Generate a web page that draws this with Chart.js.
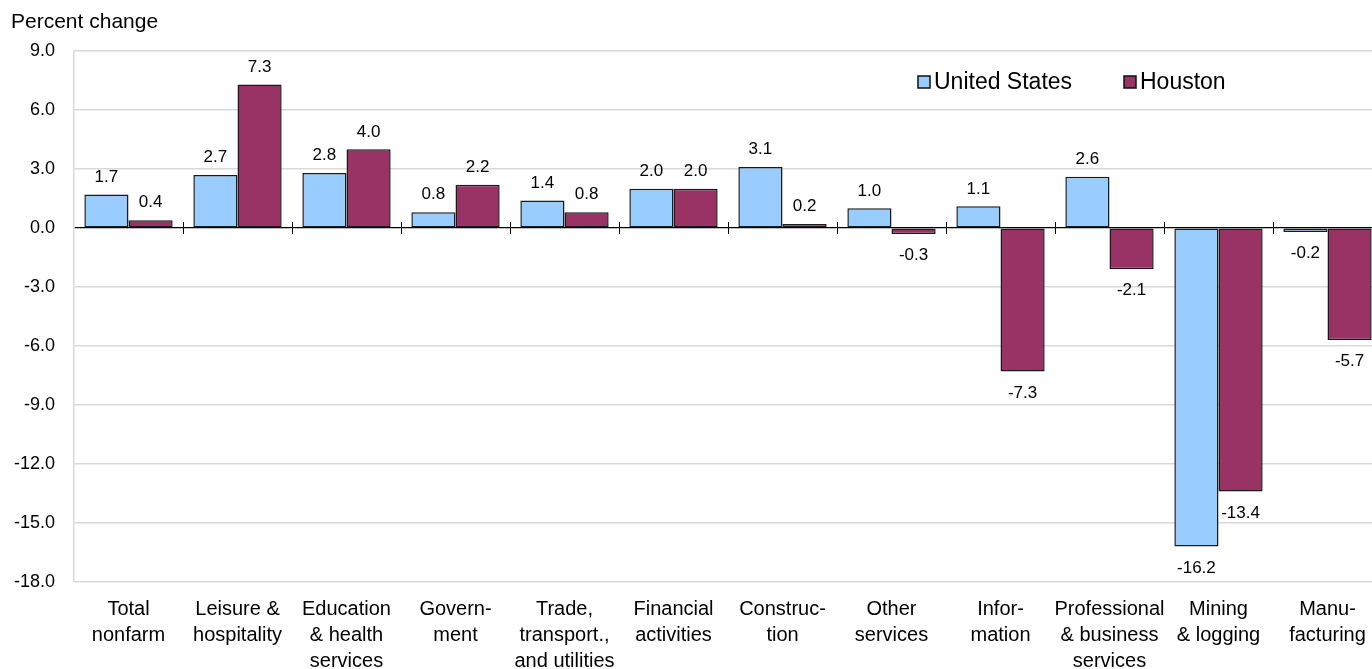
<!DOCTYPE html>
<html>
<head>
<meta charset="utf-8">
<script src="https://cdn.jsdelivr.net/npm/chart.js@4"></script>
<style>
  html, body { margin: 0; padding: 0; background: #fff; overflow: hidden; }
  #wrap { width: 1390px; height: 669px; }
</style>
</head>
<body>
<div id="wrap"><canvas id="myChart" width="1390" height="669"></canvas></div>
<script>
(function(){
  'use strict';

  const categories = [
    ['Total', 'nonfarm'],
    ['Leisure &', 'hospitality'],
    ['Education', '& health', 'services'],
    ['Govern-', 'ment'],
    ['Trade,', 'transport.,', 'and utilities'],
    ['Financial', 'activities'],
    ['Construc-', 'tion'],
    ['Other', 'services'],
    ['Infor-', 'mation'],
    ['Professional', '& business', 'services'],
    ['Mining', '& logging'],
    ['Manu-', 'facturing']
  ];
  const seriesNames = ['United States', 'Houston'];
  const usValues = [1.7, 2.7, 2.8, 0.8, 1.4, 2.0, 3.1, 1.0, 1.1, 2.6, -16.2, -0.2];
  const houstonValues = [0.4, 7.3, 4.0, 2.2, 0.8, 2.0, 0.2, -0.3, -7.3, -2.1, -13.4, -5.7];
  const yMin = -18;
  const yMax = 9;
  const yStep = 3;

  const usColor = '#99ccff';
  const houstonColor = '#993366';
  const fontFamily = '"Liberation Sans", Arial, sans-serif';

  // value labels, zero-line ticks, title and legend
  const extras = {
    id: 'extras',
    afterDatasetsDraw(chart){
      const ctx = chart.ctx;
      const area = chart.chartArea;
      const xs = chart.scales.x;
      const ys = chart.scales.y;
      const zeroY = ys.getPixelForValue(0);

      ctx.save();
      // tick marks across the zero line
      ctx.strokeStyle = '#000';
      ctx.lineWidth = 1;
      for (let i = 1; i < categories.length; i++){
        const x = Math.round((xs.getPixelForValue(i - 1) + xs.getPixelForValue(i)) / 2) + 0.5;
        ctx.beginPath();
        ctx.moveTo(x, zeroY - 6);
        ctx.lineTo(x, zeroY + 6);
        ctx.stroke();
      }

      ctx.fillStyle = '#000';
      ctx.font = '17px ' + fontFamily;
      ctx.textAlign = 'center';
      chart.data.datasets.forEach((ds, di) => {
        const meta = chart.getDatasetMeta(di);
        meta.data.forEach((bar, i) => {
          const v = ds.data[i];
          if (v >= 0){
            ctx.textBaseline = 'bottom';
            ctx.fillText(v.toFixed(1), bar.x, bar.y - 9);
          } else {
            ctx.textBaseline = 'top';
            ctx.fillText(v.toFixed(1), bar.x, bar.y + 13);
          }
        });
      });

      // axis title
      ctx.textAlign = 'left';
      ctx.textBaseline = 'middle';
      ctx.font = '21px ' + fontFamily;
      ctx.fillText('Percent change', 11, 22);

      // legend
      ctx.font = '23px ' + fontFamily;
      const legendY = 82;
      let lx = area.left + 844;
      chart.data.datasets.forEach((ds) => {
        ctx.fillStyle = ds.backgroundColor;
        ctx.fillRect(lx, legendY - 6, 12, 12);
        ctx.strokeStyle = '#111';
        ctx.lineWidth = 1.5;
        ctx.strokeRect(lx, legendY - 6, 12, 12);
        ctx.fillStyle = '#000';
        ctx.fillText(ds.label, lx + 16, legendY + 1);
        lx += 206;
      });
      ctx.restore();
    }
  };

  function createChart(){
    const ctx = document.getElementById('myChart').getContext('2d');
    new Chart(ctx, {
      type: 'bar',
      data: {
        labels: categories,
        datasets: [{
          label: seriesNames[0],
          data: usValues,
          backgroundColor: usColor,
          borderColor: '#1a1a1a',
          borderWidth: 1.5,
          borderSkipped: false
        }, {
          label: seriesNames[1],
          data: houstonValues,
          backgroundColor: houstonColor,
          borderColor: '#1a1a1a',
          borderWidth: 1.5,
          borderSkipped: false
        }]
      },
      options: {
        responsive: false,
        animation: false,
        categoryPercentage: 0.81,
        barPercentage: 1.0,
        layout: { padding: { left: 0, top: 51, right: 8, bottom: 0 } },
        scales: {
          x: {
            grid: { display: false },
            border: { display: false },
            ticks: {
              color: '#000',
              font: { family: fontFamily, size: 20, lineHeight: 1.3 },
              maxRotation: 0,
              autoSkip: false,
              padding: 6
            },
            afterFit(scale){ scale.height = 87; }
          },
          y: {
            min: yMin,
            max: yMax,
            grid: {
              color: (c) => c.tick && c.tick.value === 0 ? '#000' : '#d9d9d9',
              lineWidth: (c) => c.tick && c.tick.value === 0 ? 1.2 : 1.5,
              drawTicks: false
            },
            border: { display: true, color: '#d9d9d9', width: 1.5 },
            ticks: {
              stepSize: yStep,
              color: '#000',
              padding: 19,
              font: { family: fontFamily, size: 18 },
              callback: (v) => Number(v).toFixed(1)
            },
            afterFit(scale){ scale.width = 74; }
          }
        },
        plugins: {
          legend: { display: false },
          tooltip: { enabled: false }
        }
      },
      plugins: [extras]
    });
  }

  createChart();
})();
</script>
</body>
</html>
